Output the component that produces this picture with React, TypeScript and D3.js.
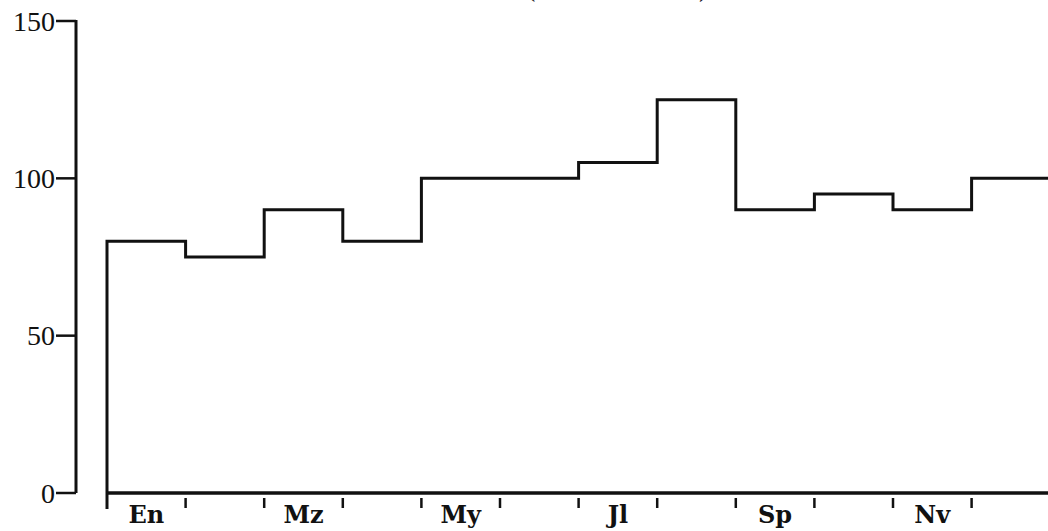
import React from "react";
import * as d3 from "d3";

const months = ["En", "Fb", "Mz", "Ab", "My", "Jn", "Jl", "Ag", "Sp", "Oc", "Nv", "Dc"];
const shownLabels = ["En", "Mz", "My", "Jl", "Sp", "Nv"];
const values = [80, 75, 90, 80, 100, 100, 105, 125, 90, 95, 90, 100];
const yTicks = [0, 50, 100, 150];

const W = 1048;
const H = 531;
const x0 = 107;
const bandW = 78.6;
const yAxisX = 76;

export default function App() {
  const x = d3.scaleBand<string>().domain(months).range([x0, x0 + bandW * months.length]).padding(0);
  const y = d3.scaleLinear().domain([0, 150]).range([493, 21]);
  const xEnd = x0 + bandW * months.length;

  const pts: [number, number][] = months.map((m, i) => [x(m)!, y(values[i])] as [number, number]);
  pts.push([xEnd, y(values[values.length - 1])]);
  const step = d3.line().curve(d3.curveStepAfter)(pts) || "";
  const path = `M${x0},${y(0)}` + step.replace(/^M/, "L");

  return (
    <svg width={W} height={H} style={{ position: "absolute", left: 0, top: 0, background: "#fff" }}>
      {/* title, clipped at the top edge as in the reference */}
      <text x={526} y={-4} fontFamily="Liberation Serif" fontSize={28} fill="#111">(</text>
      <text x={699} y={-4} fontFamily="Liberation Serif" fontSize={28} fill="#111">)</text>

      {/* y axis */}
      <line x1={yAxisX} x2={yAxisX} y1={y(150) - 1} y2={y(0)} stroke="#111" strokeWidth={3} />
      {yTicks.map((t) => (
        <g key={t}>
          <line x1={yAxisX - 20} x2={yAxisX} y1={y(t)} y2={y(t)} stroke="#111" strokeWidth={2.5} />
          <text
            x={yAxisX - 21}
            y={y(t)}
            dy="0.34em"
            textAnchor="end"
            fontFamily="Liberation Serif"
            fontSize={28}
            fill="#111"
          >
            {t}
          </text>
        </g>
      ))}

      {/* x axis */}
      <line x1={x0} x2={W} y1={y(0)} y2={y(0)} stroke="#111" strokeWidth={3.5} />
      <line x1={x0} x2={x0} y1={y(0)} y2={y(0) + 16} stroke="#111" strokeWidth={3} />
      {months.slice(1).map((m) => (
        <line key={m} x1={x(m)!} x2={x(m)!} y1={y(0) + 5} y2={y(0) + 15} stroke="#111" strokeWidth={2.5} />
      ))}
      {shownLabels.map((m) => (
        <text
          key={m}
          x={x(m)! + bandW / 2}
          y={523}
          textAnchor="middle"
          fontFamily="DejaVu Serif"
          fontWeight="bold"
          fontSize={24}
          fill="#111"
        >
          {m}
        </text>
      ))}

      {/* step line */}
      <path d={path} fill="none" stroke="#111" strokeWidth={3} strokeLinejoin="miter" />
    </svg>
  );
}
